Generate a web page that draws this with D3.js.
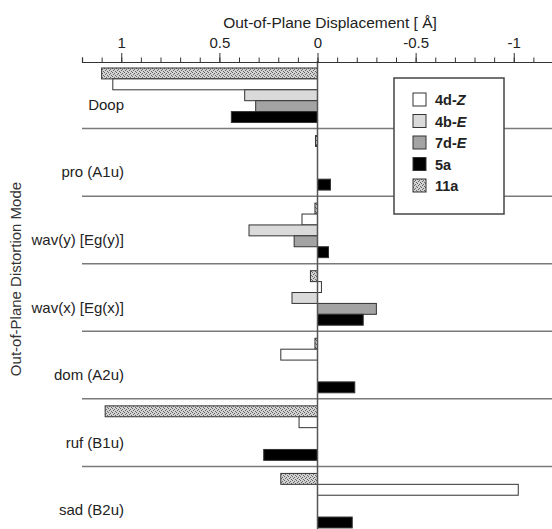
<!DOCTYPE html>
<html>
<head>
<meta charset="utf-8">
<script src="https://cdn.jsdelivr.net/npm/d3@7"></script>
<style>
  body { margin: 0; background: #fff; }
  svg { display: block; font-family: "Liberation Sans", Arial, sans-serif; }
</style>
</head>
<body>
<svg id="chart" width="552" height="529"></svg>
<script>
// distortion modes, top to bottom
var categories = ["Doop", "pro (A1u)", "wav(y) [Eg(y)]", "wav(x) [Eg(x)]", "dom (A2u)", "ruf (B1u)", "sad (B2u)"];

// series in the order they are stacked inside a band
var seriesKeys = ["11a", "4d-Z", "4b-E", "7d-E", "5a"];
// legend order
var legendKeys = ["4d-Z", "4b-E", "7d-E", "5a", "11a"];

// displacement values (A), positive = left
var values11a = [1.10, 0.01, 0.013, 0.036, 0.013, 1.082, 0.187];
var values4dZ = [1.043, 0, 0.079, -0.02, 0.187, 0.094, -1.023];
var values4bE = [0.371, 0, 0.349, 0.13, 0, 0, 0];
var values7dE = [0.315, 0, 0.119, -0.30, 0, 0, 0];
var values5a  = [0.439, -0.066, -0.056, -0.233, -0.19, 0.274, -0.177];

var majorTicks = [1, 0.5, 0, -0.5, -1];

var seriesValues = {"11a": values11a, "4d-Z": values4dZ, "4b-E": values4bE, "7d-E": values7dE, "5a": values5a};

var svg = d3.select("#chart");

// stipple pattern for 11a
var defs = svg.append("defs");
var pat = defs.append("pattern")
    .attr("id", "stipple")
    .attr("patternUnits", "userSpaceOnUse")
    .attr("width", 4).attr("height", 4);
pat.append("rect").attr("width", 4).attr("height", 4).attr("fill", "#d2d2d2");
[[0, 0], [2, 1], [1, 2], [3, 3]].forEach(function(p) {
    pat.append("rect").attr("x", p[0]).attr("y", p[1]).attr("width", 1).attr("height", 1).attr("fill", "#666");
});

var fills = {"4d-Z": "#ffffff", "4b-E": "#dadada", "7d-E": "#a3a3a3", "5a": "#000000", "11a": "url(#stipple)"};

var x = d3.scaleLinear().domain([1.2, -1.2]).range([82, 553]);
var y = d3.scaleBand().domain(categories).range([61, 534]);
var yInner = d3.scaleBand().domain(seriesKeys).range([7, 61.5]);

// separator lines between modes
svg.append("g").selectAll("line")
    .data(categories.slice(1))
    .join("line")
    .attr("x1", 82).attr("x2", 552)
    .attr("y1", function(d) { return y(d); })
    .attr("y2", function(d) { return y(d); })
    .attr("stroke", "#7a7a7a")
    .attr("stroke-width", 1.5);

// bars
var rows = [];
categories.forEach(function(c, i) {
    seriesKeys.forEach(function(k) {
        var v = seriesValues[k][i];
        if (v !== 0) rows.push({cat: c, key: k, value: v});
    });
});

svg.append("g").selectAll("rect")
    .data(rows)
    .join("rect")
    .attr("x", function(d) { return Math.min(x(0), x(d.value)); })
    .attr("width", function(d) { return Math.abs(x(d.value) - x(0)); })
    .attr("y", function(d) { return y(d.cat) + yInner(d.key); })
    .attr("height", yInner.bandwidth())
    .attr("fill", function(d) { return fills[d.key]; })
    .attr("stroke", "#333")
    .attr("stroke-width", 1);

// zero line
svg.append("line")
    .attr("x1", x(0)).attr("x2", x(0))
    .attr("y1", 61).attr("y2", 529)
    .attr("stroke", "#555")
    .attr("stroke-width", 1.5);

// category labels
svg.append("g").selectAll("text")
    .data(categories)
    .join("text")
    .attr("x", 124)
    .attr("y", function(d) { return y(d) + y.bandwidth() / 2 + 15; })
    .attr("text-anchor", "end")
    .attr("font-size", 15)
    .attr("fill", "#222")
    .text(function(d) { return d; });

// top axis: minor ticks every 0.1, major ticks with labels
var minorAxis = d3.axisTop(x).tickValues(d3.range(-12, 13).map(function(d) { return d / 10; }))
    .tickSize(4.5).tickFormat("");
var gMinor = svg.append("g").attr("transform", "translate(0,62)").call(minorAxis);
gMinor.select(".domain").attr("stroke", "#333").attr("stroke-width", 1.2);
gMinor.selectAll(".tick line").attr("stroke", "#333");

var majorAxis = d3.axisTop(x).tickValues(majorTicks).tickSize(9).tickPadding(5)
    .tickFormat(function(d) { return String(d); });
var gMajor = svg.append("g").attr("transform", "translate(0,62)").call(majorAxis);
gMajor.select(".domain").remove();
gMajor.selectAll(".tick line").attr("stroke", "#333");
gMajor.selectAll(".tick text")
    .attr("font-size", 15)
    .attr("font-family", "Liberation Sans, Arial, sans-serif")
    .attr("fill", "#222");

// axis titles
svg.append("text")
    .attr("x", 330).attr("y", 28)
    .attr("text-anchor", "middle")
    .attr("font-size", 15.5)
    .attr("fill", "#222")
    .text("Out-of-Plane Displacement [ \u00C5]");

svg.append("text")
    .attr("transform", "translate(21,279) rotate(-90)")
    .attr("text-anchor", "middle")
    .attr("font-size", 15)
    .attr("fill", "#333")
    .text("Out-of-Plane Distortion Mode");

// legend
var legend = svg.append("g");
legend.append("rect")
    .attr("x", 394).attr("y", 78)
    .attr("width", 110).attr("height", 136)
    .attr("fill", "#fff")
    .attr("stroke", "#444")
    .attr("stroke-width", 1.5);

var items = legend.selectAll("g.item")
    .data(legendKeys)
    .join("g")
    .attr("class", "item")
    .attr("transform", function(d, i) { return "translate(413," + (93 + i * 21.5) + ")"; });

items.append("rect")
    .attr("width", 13).attr("height", 13)
    .attr("fill", function(d) { return fills[d]; })
    .attr("stroke", "#333");

var labels = items.append("text")
    .attr("x", 22).attr("y", 12)
    .attr("font-size", 14.5)
    .attr("font-weight", "bold")
    .attr("fill", "#222");

labels.each(function(d) {
    var t = d3.select(this);
    var parts = d.split("-");
    if (parts.length === 2) {
        t.append("tspan").text(parts[0] + "-");
        t.append("tspan").attr("font-style", "italic").text(parts[1]);
    } else {
        t.text(d);
    }
});
</script>
</body>
</html>
